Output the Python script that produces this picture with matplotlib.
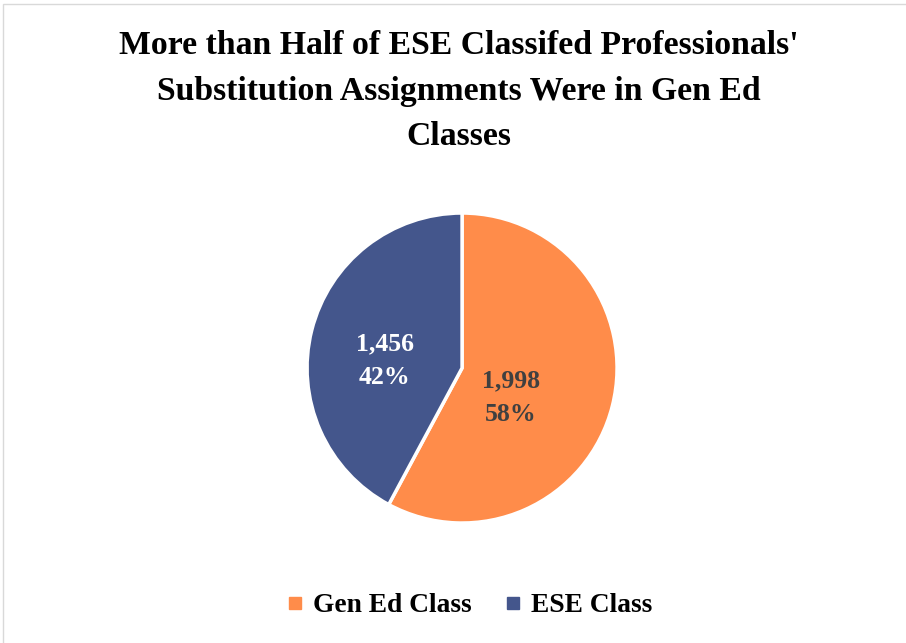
import numpy as np
import matplotlib.pyplot as plt
from matplotlib.patches import Rectangle
from matplotlib.lines import Line2D

# data
categories = ['Gen Ed Class', 'ESE Class']
counts = [1998, 1456]
colors = ['#FF8C4A', '#44568C']
label_colors = ['#404040', 'white']
title = "More than Half of ESE Classifed Professionals'\nSubstitution Assignments Were in Gen Ed\nClasses"

plt.rcParams['font.family'] = ['Liberation Serif', 'DejaVu Serif']

fig = plt.figure(figsize=(9.06, 6.43), dpi=100)

# light frame around the chart area (only top/left visible)
fig.patches.append(Rectangle((3 / 906, -0.05), 1.1, (643 - 4) / 643 + 0.05,
                             transform=fig.transFigure, fill=False,
                             edgecolor='#D9D9D9', linewidth=1.0))

fig.text(0.506, 0.953, title, ha='center', va='top', fontsize=24.3,
         fontweight='bold', linespacing=1.6, color='black')

ax = fig.add_axes([0.3389, 0.1866, 0.3422, 0.4821])
wedges, _ = ax.pie(counts, colors=colors, startangle=90, counterclock=False,
                   radius=1.0,
                   wedgeprops=dict(edgecolor='white', linewidth=2.5))
ax.set_xlim(-1, 1)
ax.set_ylim(-1, 1)
ax.set_aspect('equal')
ax.axis('off')

total = sum(counts)
# label positions (relative to pie radius), as Excel places them
label_pos = [(0.315, -0.19), (-0.50, 0.05)]
for cnt, (lx, ly), c in zip(counts, label_pos, label_colors):
    pct = round(100 * cnt / total)
    ax.text(lx, ly, f'{cnt:,}\n{pct}%', ha='center', va='center',
            fontsize=18.5, fontweight='bold', color=c, linespacing=1.6)

handles = [Line2D([], [], marker='s', linestyle='none', markersize=9,
                  markerfacecolor=col, markeredgecolor=col) for col in colors]
fig.legend(handles, categories, loc='center', bbox_to_anchor=(0.515, 0.058),
           ncol=2, frameon=False, prop=dict(size=19.8, weight='bold'),
           handletextpad=0.15, columnspacing=1.0, handlelength=1.0)

fig.savefig('out.png', dpi=100)
